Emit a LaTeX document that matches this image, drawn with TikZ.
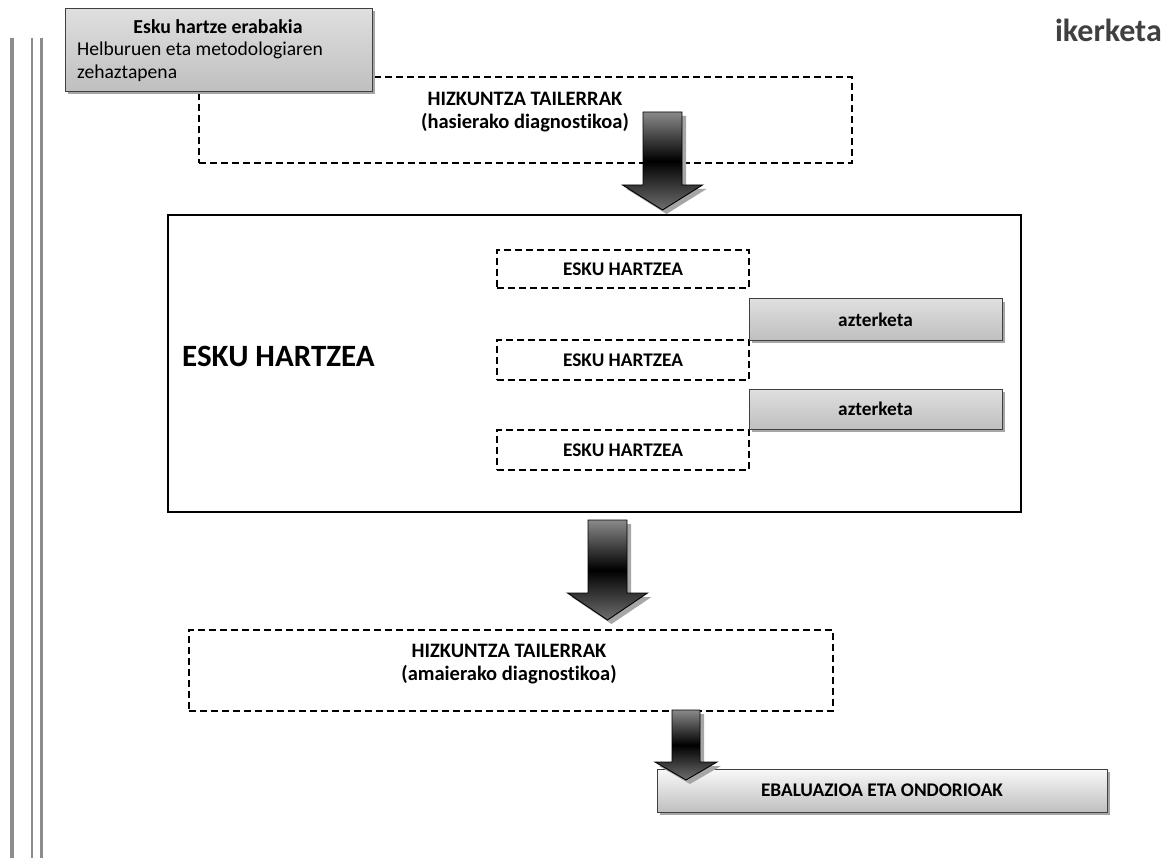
\documentclass[tikz,border=0pt]{standalone}
\usepackage{fontspec}
\setmainfont{Carlito}[Ligatures=NoCommon]
\usetikzlibrary{shadows,calc}
\definecolor{boxline}{HTML}{404040}
\definecolor{arrowgray}{HTML}{8A8A8A}
\definecolor{shadowgray}{HTML}{A6A6A6}
\definecolor{rulegray}{HTML}{8C8C8C}
\definecolor{labelgray}{HTML}{404040}
\tikzset{
  x=1pt,y=-1pt,
  dashbox/.style={draw=black, line width=1.1pt, dash pattern=on 7pt off 4pt, rectangle, inner sep=0pt},
  graybox/.style={draw=boxline, line width=1pt, rectangle, inner sep=0pt,
     top color=#1, bottom color=gray!50,
     drop shadow={shadow xshift=3pt, shadow yshift=-3pt, fill=shadowgray, opacity=1}},
  graybox/.default=gray!25,
  midtext/.style={font=\fontsize{20.5}{23}\selectfont\bfseries, align=center, inner sep=0pt},
  smalltext/.style={font=\fontsize{19.3}{22}\selectfont\bfseries, align=center, inner sep=0pt},
  vrule/.style={draw=rulegray},
  arrowbody/.style={draw=black, line width=0.9pt, top color=arrowgray, bottom color=arrowgray!80!black, middle color=black},
  arrowshadow/.style={fill=shadowgray},
}
% cx, half shaft, half head, ytop, yhead, ytip
\newcommand\blockarrow[6]{%
  \path[arrowshadow, shift={(4,4)}] (#1-#2,#4) -- (#1+#2,#4) -- (#1+#2,#5) -- (#1+#3,#5) -- (#1,#6) -- (#1-#3,#5) -- (#1-#2,#5) -- cycle;
  \path[arrowbody] (#1-#2,#4) -- (#1+#2,#4) -- (#1+#2,#5) -- (#1+#3,#5) -- (#1,#6) -- (#1-#3,#5) -- (#1-#2,#5) -- cycle;
}
\begin{document}
\begin{tikzpicture}
\useasboundingbox (0,0) rectangle (1174,858);

% left rules
\draw[vrule, line width=4pt] (12,38) -- (12,858);
\draw[vrule, line width=2.2pt] (32,38) -- (32,858);
\draw[vrule, line width=2.5pt] (41.5,38) -- (41.5,858);

% title top right
\node[anchor=east, inner sep=0pt, text=labelgray, font=\fontsize{32}{36}\selectfont\bfseries] (ik) at (1162,30) {ikerketa};

% first language workshop
\node[dashbox, minimum width=653, minimum height=86] (h1) at (525.5,120) {};
\node[midtext] (h1t) at (525,112) {HIZKUNTZA TAILERRAK\\(hasierako diagnostikoa)};

% decision box
\node[graybox, minimum width=307, minimum height=83] (tb) at (218.5,50) {};
\node[inner sep=0pt, font=\fontsize{19.8}{22}\selectfont\bfseries] (tbt) at (218,27) {Esku hartze erabakia};
\node[inner sep=0pt, anchor=north west, align=left, font=\fontsize{19.6}{23}\selectfont] (tbb) at (77,42) {Helburuen eta metodologiaren\\zehaztapena};

% arrow 1
\blockarrow{662.5}{19.5}{40}{112}{185}{210}

% intervention frame
\node[draw=black, line width=2.5pt, rectangle, minimum width=853, minimum height=297, inner sep=0pt] (eh) at (594.5,363.5) {};
\node[anchor=west, inner sep=0pt, font=\fontsize{31}{34}\selectfont\bfseries] (eht) at (182,356) {ESKU HARTZEA};

\node[dashbox, minimum width=252, minimum height=38, smalltext] (e1) at (623,269) {ESKU HARTZEA};
\node[dashbox, minimum width=252, minimum height=40, smalltext] (e2) at (623,360) {ESKU HARTZEA};
\node[dashbox, minimum width=252, minimum height=40, smalltext] (e3) at (623,450) {ESKU HARTZEA};

\node[graybox, minimum width=253, minimum height=41, smalltext] (a1) at (875.5,319.5) {azterketa};
\node[graybox, minimum width=253, minimum height=40, smalltext] (a2) at (875.5,409) {azterketa};

% arrow 2
\blockarrow{607.5}{19.5}{40}{520}{593}{620}

% final language workshop
\node[dashbox, minimum width=644, minimum height=81] (h2) at (511,670.5) {};
\node[midtext] (h2t) at (509,664) {HIZKUNTZA TAILERRAK\\(amaierako diagnostikoa)};

% evaluation
\node[graybox=gray!5, minimum width=450, minimum height=43, smalltext] (ev) at (882,790.5) {EBALUAZIOA ETA ONDORIOAK};

% arrow 3
\blockarrow{686}{14}{31}{710}{762}{780}
\end{tikzpicture}
\end{document}
